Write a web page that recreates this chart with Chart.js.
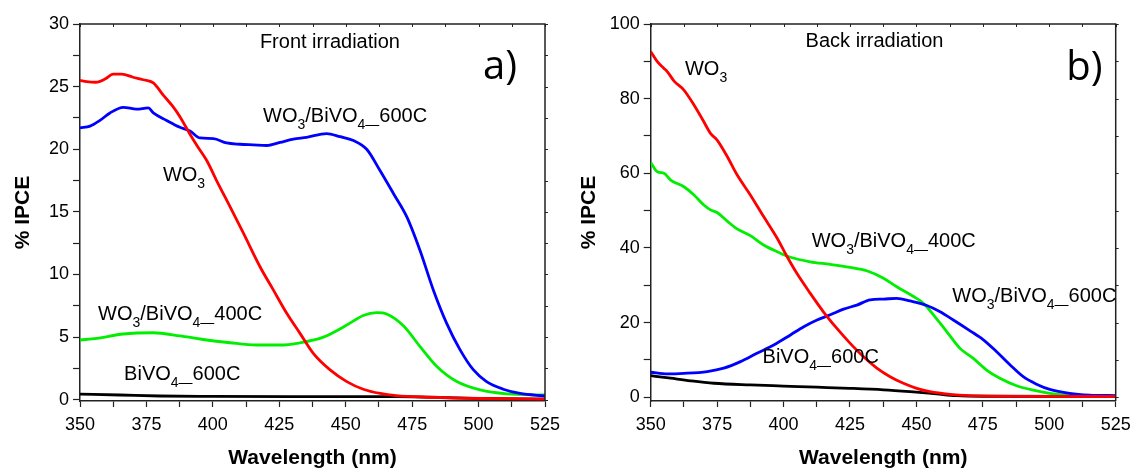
<!DOCTYPE html>
<html>
<head>
<meta charset="utf-8">
<script src="https://cdn.jsdelivr.net/npm/chart.js@4.4.0/dist/chart.umd.min.js"></script>
<style>
  body { margin: 0; background: #fff; }
  #wrap { position: relative; width: 1132px; height: 468px; }
  canvas { position: absolute; top: 0; }
  #chartA { left: 0; }
  #chartB { left: 566px; }
</style>
</head>
<body>
<div id="wrap">
  <canvas id="chartA" width="566" height="468"></canvas>
  <canvas id="chartB" width="566" height="468"></canvas>
</div>
<script>
// ---------- panel a) front irradiation ----------
const aWO3X = [350,352.5,356,359.4,362.5,365.7,370,373.8,377.6,381.4,385,387.6,391.4,394,397.7,401.4,406.5,411.5,417.8,422.8,427.8,432.8,437.8,444,450.4,456.6,463,469,481.7,500.6,525];
const aWO3Y = [25.5,25.4,25.35,25.6,26.0,26.0,25.75,25.55,25.3,24.3,23.4,22.6,21.2,20.3,19.1,17.5,15.4,13.3,10.6,8.75,6.9,5.3,3.7,2.4,1.45,0.84,0.5,0.33,0.2,0.1,0.05];

const a600X = [350,353.8,357.5,361.3,366.3,371.3,375.7,377.6,382.6,387.6,391.4,395.2,400.2,405.2,410.2,415.2,420.3,425.3,430.3,435.3,442.8,447.9,452.9,457.9,462.9,468,473,478,483,488,493,498,503,509.3,515.6,525];
const a600Y = [21.7,21.85,22.3,22.9,23.35,23.2,23.3,22.9,22.3,21.75,21.45,20.9,20.85,20.5,20.4,20.35,20.3,20.55,20.8,20.95,21.25,21.0,20.7,20.0,18.3,16.45,14.6,11.9,8.75,6.1,4.0,2.4,1.45,0.84,0.5,0.3];

const a400X = [350,356.3,366.3,377.6,387.6,395.2,406.5,416.5,425.3,432.8,441.6,450.4,456.6,461.7,465.4,471.7,478,484.3,491.8,500.6,510.6,525];
const a400Y = [4.77,4.9,5.25,5.35,5.1,4.85,4.55,4.37,4.37,4.55,5.0,5.96,6.73,6.95,6.84,5.9,4.24,2.65,1.45,0.78,0.47,0.38];

const aBiVX = [350,365,380,400,430,470,500,525];
const aBiVY = [0.45,0.38,0.3,0.27,0.25,0.25,0.1,0.05];

// ---------- panel b) back irradiation ----------
const bWO3X = [350,352.5,355,356.3,358.8,362.5,366.3,370,372.5,375,378.8,382.5,387.5,392.5,397.6,401.3,405,410,415,420,425,430,435.1,440.1,445.1,450.1,455.1,462.6,470.2,487.7,525];
const bWO3Y = [92.6,89.9,88.1,87.2,84.7,82.3,78.3,73.8,70.7,68.9,64.5,59.6,54.2,48.4,42.6,37.7,33.2,27.9,22.9,18.5,14.5,10.9,7.8,5.5,3.75,2.4,1.5,0.8,0.45,0.25,0.2];

const b400X = [350,352.5,355,357.5,362.5,366.3,370,372.5,375,378.8,382.5,387.5,392.5,397.6,402.6,410,417.6,425,431.3,437.6,442.6,448.9,452.6,456.4,461.4,466.4,471.4,476.4,481.4,487.7,494,500.2,506.4,515.2,525];
const b400Y = [62.9,60.4,60,58.2,56.4,54.2,51.5,50.2,49.5,47.2,45.1,43.3,40.8,39,37.5,36.3,35.6,34.8,33.9,31.9,29.6,27,25.2,22.1,17.6,13.1,10.4,7.3,5.1,3.1,1.9,1.07,0.6,0.36,0.27];

const b600X = [350,356.3,362.5,371.3,377.5,383.8,390,396.3,402.6,407.6,412.6,417.6,422.6,427.6,432.6,437.6,442.6,447.6,453.9,458.9,463.9,470.2,475.2,480.2,485.2,490.2,495.2,500.2,507.7,515.2,525];
const b600Y = [6.7,6.25,6.4,6.9,7.8,9.55,11.8,14,16.7,18.9,20.7,22.1,23.6,24.7,26.1,26.3,26.5,25.8,24.6,22.9,20.7,17.8,15.4,12.2,8.7,5.5,3.5,2.1,1.07,0.6,0.45];

const bBiVX = [350,357.5,365,373.8,387.5,400,412.6,425,437.6,447.6,457.6,465,475,525];
const bBiVY = [5.8,5.1,4.4,3.75,3.3,3.0,2.7,2.4,2.0,1.5,0.9,0.45,0.27,0.2];

// axis ticks
const xTickLabels = [350,375,400,425,450,475,500,525];
const aYTickLabels = [0,5,10,15,20,25,30];
const bYTickLabels = [0,20,40,60,80,100];

// text labels: [wavelength, IPCE, parts]  (parts: [text, isSub])
const aLabels = [
  [417.7, 28.1, [['Front irradiation', 0]]],
  [418.9, 22.2, [['WO', 0], ['3', 1], ['/BiVO', 0], ['4\u2014', 1], ['600C', 0]]],
  [381.2, 17.5, [['WO', 0], ['3', 1]]],
  [356.8, 6.4, [['WO', 0], ['3', 1], ['/BiVO', 0], ['4\u2014', 1], ['400C', 0]]],
  [366.6, 1.6, [['BiVO', 0], ['4\u2014', 1], ['600C', 0]]]
];
const bLabels = [
  [408.3, 93.8, [['Back irradiation', 0]]],
  [362.9, 86.3, [['WO', 0], ['3', 1]]],
  [410.6, 40.3, [['WO', 0], ['3', 1], ['/BiVO', 0], ['4\u2014', 1], ['400C', 0]]],
  [463.5, 25.5, [['WO', 0], ['3', 1], ['/BiVO', 0], ['4\u2014', 1], ['600C', 0]]],
  [392.1, 9.2, [['BiVO', 0], ['4\u2014', 1], ['600C', 0]]]
];

const FONT = "'Liberation Sans', Arial, sans-serif";
const AXIS = '#222';

function pts(xs, ys) {
  return xs.map(function (x, i) { return { x: x, y: ys[i] }; });
}

function line(data, color) {
  return {
    data: data,
    borderColor: color,
    borderWidth: 2.8,
    pointRadius: 0,
    fill: false,
    cubicInterpolationMode: 'monotone'
  };
}

// draws labels with subscripts, frame and panel letter
const panelText = {
  id: 'panelText',
  afterDatasetsDraw(chart, args, opts) {
    const ctx = chart.ctx;
    const xs = chart.scales.x, ys = chart.scales.y;
    const area = chart.chartArea;
    ctx.save();

    // top and right frame with small ticks
    ctx.strokeStyle = AXIS;
    ctx.lineWidth = 1.5;
    ctx.beginPath();
    ctx.moveTo(area.left, area.top);
    ctx.lineTo(area.right, area.top);
    ctx.lineTo(area.right, area.bottom);
    ctx.stroke();
    ctx.lineWidth = 1;
    xs.ticks.forEach(function (t) {
      const px = Math.round(xs.getPixelForValue(t.value)) + 0.5;
      ctx.beginPath();
      ctx.moveTo(px, area.top);
      ctx.lineTo(px, area.top + 3);
      ctx.stroke();
    });
    ys.ticks.forEach(function (t) {
      const py = Math.round(ys.getPixelForValue(t.value)) + 0.5;
      ctx.beginPath();
      ctx.moveTo(area.right, py);
      ctx.lineTo(area.right + 3, py);
      ctx.stroke();
    });

    // annotation labels
    ctx.fillStyle = '#000';
    ctx.textBaseline = 'alphabetic';
    ctx.textAlign = 'left';
    opts.items.forEach(function (it) {
      let px = xs.getPixelForValue(it[0]);
      const py = ys.getPixelForValue(it[1]);
      it[2].forEach(function (p) {
        if (p[1]) {
          ctx.font = '14px ' + FONT;
          ctx.fillText(p[0], px, py + 7);
        } else {
          ctx.font = '20px ' + FONT;
          ctx.fillText(p[0], px, py);
        }
        px += ctx.measureText(p[0]).width;
      });
    });

    // panel letter
    ctx.font = "40px 'Open Sans', 'Noto Sans', sans-serif";
    ctx.fillText(opts.letter[2], xs.getPixelForValue(opts.letter[0]), ys.getPixelForValue(opts.letter[1]));
    ctx.restore();
  }
};

function makeChart(id, sets, yMin, yMax, yStep, yLabels, leftW, rightPad, items, letter) {
  const ctx = document.getElementById(id).getContext('2d');
  return new Chart(ctx, {
    type: 'line',
    data: { datasets: sets },
    options: {
      responsive: false,
      animation: false,
      devicePixelRatio: 1,
      layout: { padding: { top: 24, right: rightPad, bottom: 0, left: 0 } },
      plugins: {
        legend: { display: false },
        tooltip: { enabled: false },
        panelText: { items: items, letter: letter }
      },
      scales: {
        x: {
          type: 'linear',
          min: 350,
          max: 525,
          ticks: {
            stepSize: 12.5,
            autoSkip: false,
            maxRotation: 0,
            padding: 7,
            color: '#000',
            font: { family: FONT, size: 18 },
            callback: function (v) { return xTickLabels.indexOf(v) >= 0 ? String(v) : ''; }
          },
          grid: { drawOnChartArea: false, drawTicks: true, tickLength: 6, tickColor: AXIS, tickWidth: 1.2 },
          border: { display: true, color: AXIS, width: 1.5 },
          title: {
            display: true,
            text: 'Wavelength (nm)',
            color: '#000',
            font: { family: FONT, size: 21, weight: 'bold' },
            padding: { top: 0, bottom: -3 }
          },
          afterFit: function (s) {
            s.height = 67;
            s.paddingLeft = 0;
            s.paddingRight = 0;
          }
        },
        y: {
          type: 'linear',
          min: yMin,
          max: yMax,
          ticks: {
            stepSize: yStep,
            includeBounds: false,
            autoSkip: false,
            padding: 4,
            color: '#000',
            font: { family: FONT, size: 18 },
            callback: function (v) { return yLabels.indexOf(v) >= 0 ? String(v) : ''; }
          },
          grid: { drawOnChartArea: false, drawTicks: true, tickLength: 7, tickColor: AXIS, tickWidth: 1.2 },
          border: { display: true, color: AXIS, width: 1.5 },
          title: {
            display: true,
            text: '% IPCE',
            color: '#000',
            font: { family: FONT, size: 21, weight: 'bold' },
            padding: { top: 11, bottom: 0 }
          },
          afterFit: function (s) {
            s.width = leftW;
            s.paddingTop = 0;
            s.paddingBottom = 0;
          }
        }
      }
    },
    plugins: [panelText]
  });
}

makeChart('chartA', [
  line(pts(aWO3X, aWO3Y), '#ff0000'),
  line(pts(a600X, a600Y), '#0000ff'),
  line(pts(a400X, a400Y), '#00ee00'),
  line(pts(aBiVX, aBiVY), '#000000')
], -0.1, 30, 2.5, aYTickLabels, 80, 21, aLabels, [501.7, 25.6, 'a)']);

makeChart('chartB', [
  line(pts(bWO3X, bWO3Y), '#ff0000'),
  line(pts(b600X, b600Y), '#0000ff'),
  line(pts(b400X, b400Y), '#00ee00'),
  line(pts(bBiVX, bBiVY), '#000000')
], -1, 100, 10, bYTickLabels, 84.7, 16.3, bLabels, [506.4, 85, 'b)']);
</script>
</body>
</html>
